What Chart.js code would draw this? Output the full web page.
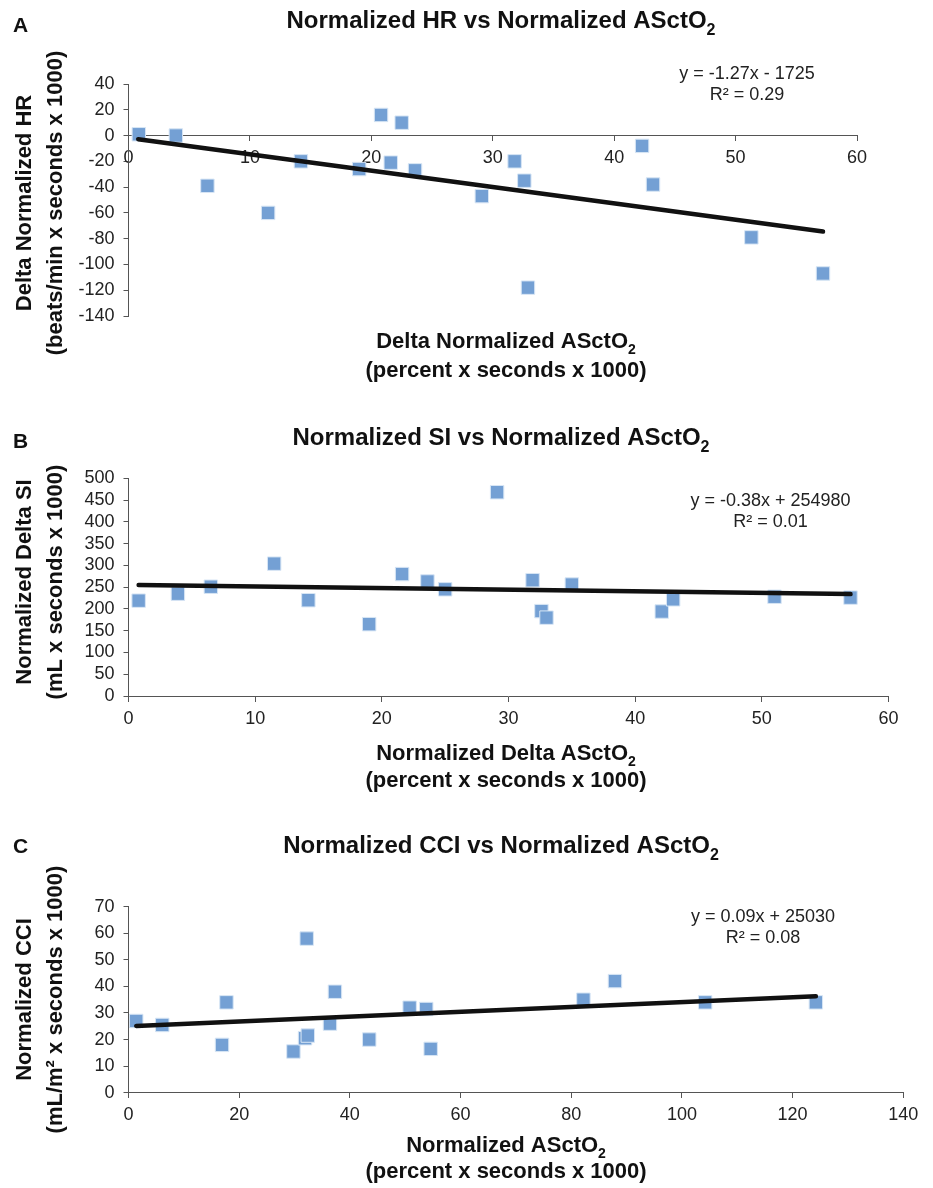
<!DOCTYPE html>
<html>
<head>
<meta charset="utf-8">
<script src="https://cdn.jsdelivr.net/npm/chart.js@4.4.1/dist/chart.umd.min.js"></script>
<style>
  body { margin: 0; background: #fff; }
  canvas { position: absolute; left: 0; }
</style>
</head>
<body>
<canvas id="chartA" width="933" height="390" style="top:0px"></canvas>
<canvas id="chartB" width="933" height="410" style="top:390px"></canvas>
<canvas id="chartC" width="933" height="388" style="top:800px"></canvas>
<script>
// panel A: delta normalized HR vs delta normalized ASctO2
const hrX = [0.85, 3.9, 6.5, 11.5, 14.2, 19.0, 20.8, 21.6, 22.5, 23.6, 29.1, 31.8, 32.6, 32.9, 42.3, 43.2, 51.3, 57.2];
const hrY = [1, 0, -39, -60, -20, -26, 16, -21, 10, -27, -47, -20, -35, -118, -8, -38, -79, -107];
const hrTrendX = [0.8, 57.2];
const hrTrendY = [-2.8, -74.5];
const hrXTicks = [0, 60, 10];
const hrYTicks = [-140, 40, 20];

// panel B: normalized delta SI
const siX = [0.8, 3.9, 6.5, 11.5, 14.2, 19.0, 21.6, 23.6, 25.0, 29.1, 31.9, 32.6, 33.0, 35.0, 42.1, 43.0, 51.0, 57.0];
const siY = [219, 235, 251, 304, 220, 165, 280, 263, 245, 468, 266, 195, 180, 256, 194, 222, 228, 226];
const siTrendX = [0.8, 57.0];
const siTrendY = [255, 234];
const siXTicks = [0, 60, 10];
const siYTicks = [0, 500, 50];

// panel C: normalized CCI
const cciX = [1.4, 6.1, 16.9, 17.7, 29.8, 31.9, 32.4, 32.2, 36.4, 37.3, 43.5, 50.8, 53.8, 54.6, 82.2, 87.9, 104.2, 124.2];
const cciY = [27, 25.5, 18, 34, 15.5, 20.5, 21.5, 58, 26, 38, 20, 32, 31.5, 16.5, 35, 42, 34, 34];
const cciTrendX = [1.4, 124.2];
const cciTrendY = [25.1, 36.3];
const cciXTicks = [0, 140, 20];
const cciYTicks = [0, 70, 10];

const FONT = '"Liberation Sans", Arial, Helvetica, sans-serif';

// draws bold text with optional subscript parts, centred on cx
function drawRich(ctx, parts, cx, y, size) {
  ctx.textAlign = 'left';
  let w = 0;
  parts.forEach(([t, sub]) => {
    ctx.font = `bold ${sub ? Math.round(size * 0.65) : size}px ${FONT}`;
    w += ctx.measureText(t).width;
  });
  let x = cx - w / 2;
  parts.forEach(([t, sub]) => {
    ctx.font = `bold ${sub ? Math.round(size * 0.65) : size}px ${FONT}`;
    ctx.fillText(t, x, sub ? y + size * 0.28 : y);
    x += ctx.measureText(t).width;
  });
}

const panelText = {
  id: 'panelText',
  afterDraw(chart, args, o) {
    const ctx = chart.ctx;
    ctx.save();
    ctx.fillStyle = '#111';
    ctx.textBaseline = 'alphabetic';
    ctx.textAlign = 'left';
    ctx.font = `bold 21px ${FONT}`;
    ctx.fillText(o.letter, 13, o.letterY);
    drawRich(ctx, o.title, 501, o.titleY, 24);
    o.xTitle.forEach((line, i) => drawRich(ctx, line, 506, o.xTitleY[i], 22));
    o.yTitle.forEach((line, i) => {
      ctx.save();
      ctx.translate([31, 62][i], o.yTitleMid);
      ctx.rotate(-Math.PI / 2);
      drawRich(ctx, line, 0, 0, 22);
      ctx.restore();
    });
    ctx.fillStyle = '#222';
    ctx.font = `18px ${FONT}`;
    ctx.textAlign = 'center';
    o.eq.forEach((t, i) => ctx.fillText(t, o.eqX, o.eqY[i]));
    ctx.restore();
  }
};

function makeChart(id, xs, ys, tx, ty, xt, yt, area, xCross, text) {
  const canvas = document.getElementById(id);
  const pts = xs.map((x, i) => ({x: x, y: ys[i]}));
  const trend = tx.map((x, i) => ({x: x, y: ty[i]}));
  const axisGrid = { drawOnChartArea: false, tickLength: 5, color: '#555', lineWidth: 1 };
  const axisBorder = { color: '#555', width: 1 };
  const tickFont = { family: FONT, size: 18 };
  return new Chart(canvas, {
    type: 'scatter',
    data: {
      datasets: [{
        data: trend,
        showLine: true,
        borderColor: '#111',
        borderWidth: 4.5,
        borderCapStyle: 'round',
        pointRadius: 0,
        order: 0
      }, {
        data: pts,
        pointStyle: 'rect',
        pointRadius: 9.5,
        pointHoverRadius: 9.5,
        backgroundColor: '#74a0d4',
        borderColor: '#d8e6f5',
        borderWidth: 1,
        order: 1
      }]
    },
    options: {
      responsive: false,
      animation: false,
      layout: {
        padding: { left: 0, top: area.top, right: 933 - area.right, bottom: canvas.height - area.bottom }
      },
      plugins: {
        legend: { display: false },
        tooltip: { enabled: false },
        panelText: text
      },
      scales: {
        x: {
          type: 'linear',
          position: { y: xCross },
          min: xt[0], max: xt[1],
          ticks: { stepSize: xt[2], color: '#222', font: tickFont, padding: 7, maxRotation: 0, autoSkip: false },
          grid: axisGrid,
          border: axisBorder
        },
        y: {
          type: 'linear',
          min: yt[0], max: yt[1],
          ticks: { stepSize: yt[2], color: '#222', font: tickFont, padding: 9, autoSkip: false },
          grid: axisGrid,
          border: axisBorder,
          afterFit: s => { s.width = 128.5; }
        }
      }
    },
    plugins: [panelText]
  });
}

makeChart('chartA', hrX, hrY, hrTrendX, hrTrendY, hrXTicks, hrYTicks,
  { top: 84, right: 857, bottom: 316 }, 0, {
    letter: 'A', letterY: 32,
    title: [['Normalized HR vs Normalized ASctO', false], ['2', true]], titleY: 28,
    xTitle: [[['Delta Normalized ASctO', false], ['2', true]], [['(percent x seconds x 1000)', false]]],
    xTitleY: [348, 377],
    yTitle: [[['Delta Normalized HR', false]], [['(beats/min x seconds x 1000)', false]]],
    yTitleMid: 203,
    eq: ['y = -1.27x - 1725', 'R² = 0.29'], eqX: 747, eqY: [78.5, 99.5]
  });

makeChart('chartB', siX, siY, siTrendX, siTrendY, siXTicks, siYTicks,
  { top: 88.3, right: 888.5, bottom: 306 }, 0, {
    letter: 'B', letterY: 58,
    title: [['Normalized SI vs Normalized ASctO', false], ['2', true]], titleY: 55,
    xTitle: [[['Normalized Delta ASctO', false], ['2', true]], [['(percent x seconds x 1000)', false]]],
    xTitleY: [370, 397],
    yTitle: [[['Normalized Delta SI', false]], [['(mL x seconds x 1000)', false]]],
    yTitleMid: 192,
    eq: ['y = -0.38x + 254980', 'R² = 0.01'], eqX: 770.5, eqY: [116, 137.3]
  });

makeChart('chartC', cciX, cciY, cciTrendX, cciTrendY, cciXTicks, cciYTicks,
  { top: 106.7, right: 903.3, bottom: 292.7 }, 0, {
    letter: 'C', letterY: 53,
    title: [['Normalized CCI vs Normalized ASctO', false], ['2', true]], titleY: 53,
    xTitle: [[['Normalized ASctO', false], ['2', true]], [['(percent x seconds x 1000)', false]]],
    xTitleY: [352, 378],
    yTitle: [[['Normalized CCI', false]], [['(mL/m² x seconds x 1000)', false]]],
    yTitleMid: 199.5,
    eq: ['y = 0.09x + 25030', 'R² = 0.08'], eqX: 763, eqY: [122.3, 142.7]
  });
</script>
</body>
</html>
